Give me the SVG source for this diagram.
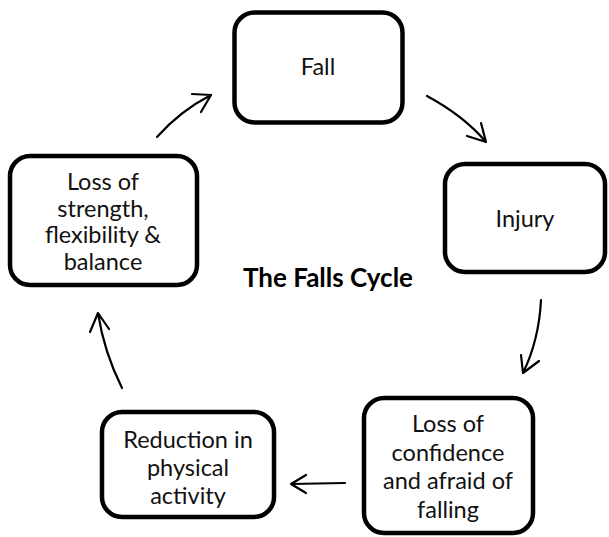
<svg xmlns="http://www.w3.org/2000/svg" width="609" height="537" viewBox="0 0 609 537">
<style>
.box{fill:#fff;stroke:#000;stroke-width:4.5}
.t{font-family:Lato,"Open Sans","Liberation Sans",sans-serif;font-size:23.5px;fill:#111;text-anchor:middle}
.title{font-family:Lato,"Open Sans","Liberation Sans",sans-serif;font-size:26px;font-weight:bold;fill:#000;text-anchor:middle}
.arr{fill:none;stroke:#000;stroke-width:2.2;stroke-linecap:round;stroke-linejoin:round}
</style>
<rect width="609" height="537" fill="#fff"/>
<g id="fall"><rect class="box" x="234.5" y="12.5" width="168" height="110" rx="20"/><text class="t" x="318" y="75">Fall</text></g>
<g id="injury"><rect class="box" x="445" y="164" width="160" height="108" rx="20"/><text class="t" x="525" y="227">Injury</text></g>
<g id="confidence"><rect class="box" x="364" y="398" width="169" height="135" rx="20"/>
<text class="t" x="448" y="432">Loss of</text><text class="t" x="448" y="460.5">confidence</text><text class="t" x="448" y="489">and afraid of</text><text class="t" x="448" y="517.5">falling</text></g>
<g id="reduction"><rect class="box" x="102" y="412" width="172" height="105" rx="20"/>
<text class="t" x="188" y="448">Reduction in</text><text class="t" x="188" y="476">physical</text><text class="t" x="188" y="504">activity</text></g>
<g id="strength"><rect class="box" x="10" y="156" width="187" height="129" rx="20"/>
<text class="t" x="103" y="190">Loss of</text><text class="t" x="103" y="216.5">strength,</text><text class="t" x="103" y="243">flexibility &amp;</text><text class="t" x="103" y="270">balance</text></g>
<text class="title" x="328" y="287">The Falls Cycle</text>
<g id="connectors">
<path class="arr" d="M157,137 Q180,111 211,95 M192,94 L211,95 L201,112"/>
<path class="arr" d="M427,96 Q464,116 486,142 M481,123 L486,142 L467,136"/>
<path class="arr" d="M541,300 Q539,340 523,373 M521,355 L523,373 L539,361"/>
<path class="arr" d="M345,483 L291,484 M306,475 L291,484 L306,493"/>
<path class="arr" d="M122,388 Q104,352 98,313 M90,332 L98,313 L109,329"/>
</g>
</svg>
